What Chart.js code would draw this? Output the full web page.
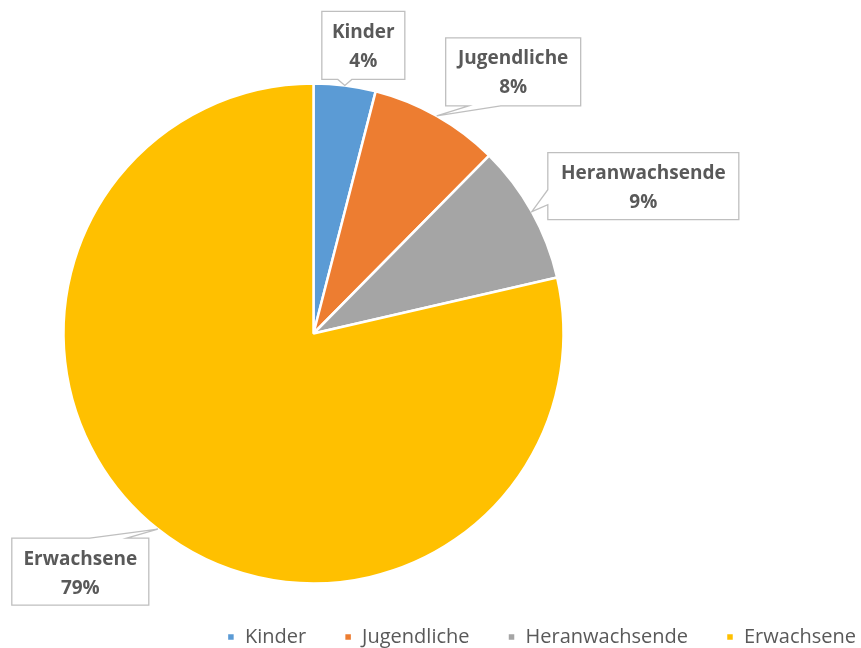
<!DOCTYPE html>
<html>
<head>
    <script src="https://cdn.jsdelivr.net/npm/chart.js@4.4.0/dist/chart.umd.min.js"></script>
    <style>
    body {
        margin: 0;
        background-color: #ffffff;
    }
    #wrap {
        width: 861px;
        height: 648px;
    }
    </style>
    <title>Altersgruppen</title>
</head>
<body>

<div id="wrap"><canvas id="myChart" width="861" height="648"></canvas></div>

<script>
    // data (slice angles), labels show rounded percent
    var categories = ['Kinder', 'Jugendliche', 'Heranwachsende', 'Erwachsene'];
    var shares = [4.0, 8.4, 9.0, 78.6];
    var sliceColors = ['#5B9BD5', '#ED7D31', '#A5A5A5', '#FFC000'];

    // callout boxes: offset of the box from the slice's edge point, box size, and where the wedge sits
    var callouts = [
        {dx: -23, dy: -74, w: 83, h: 68, edge: 'bottom', a: 16, b: 30},
        {dx: 9, dy: -78, w: 135, h: 68, edge: 'bottom', a: 23, b: 55},
        {dx: 16, dy: -59, w: 191, h: 67, edge: 'left', a: 37, b: 52},
        {dx: -146, dy: 9, w: 137, h: 67, edge: 'top', a: 78, b: 115}
    ];

    // put the pie where the original one sits (left of centre), legend keeps full width
    var pieArea = {
        id: 'pieArea',
        afterLayout: function(chart) {
            var a = chart.chartArea;
            a.left = 64; a.right = 563; a.top = 84; a.bottom = 583;
            a.width = 499; a.height = 499;
        }
    };

    var calloutLabels = {
        id: 'calloutLabels',
        afterDatasetsDraw: function(chart) {
            var ctx = chart.ctx;
            var meta = chart.getDatasetMeta(0);
            var total = shares.reduce(function(s, v) { return s + v; }, 0);
            meta.data.forEach(function(arc, i) {
                var p = arc.getProps(['x', 'y', 'startAngle', 'endAngle', 'outerRadius'], true);
                var mid = (p.startAngle + p.endAngle) / 2;
                var tx = p.x + Math.cos(mid) * p.outerRadius;
                var ty = p.y + Math.sin(mid) * p.outerRadius;
                var c = callouts[i];
                var L = tx + c.dx, T = ty + c.dy, R = L + c.w, B = T + c.h;

                ctx.save();
                ctx.beginPath();
                ctx.moveTo(L, T);
                if (c.edge === 'top') {
                    ctx.lineTo(L + c.a, T); ctx.lineTo(tx, ty); ctx.lineTo(L + c.b, T);
                }
                ctx.lineTo(R, T);
                ctx.lineTo(R, B);
                if (c.edge === 'bottom') {
                    ctx.lineTo(L + c.b, B); ctx.lineTo(tx, ty); ctx.lineTo(L + c.a, B);
                }
                ctx.lineTo(L, B);
                if (c.edge === 'left') {
                    ctx.lineTo(L, T + c.b); ctx.lineTo(tx, ty); ctx.lineTo(L, T + c.a);
                }
                ctx.closePath();
                ctx.fillStyle = '#ffffff';
                ctx.fill();
                ctx.strokeStyle = '#bfbfbf';
                ctx.lineWidth = 1.3;
                ctx.stroke();

                ctx.fillStyle = '#595959';
                ctx.font = 'bold 19px "Open Sans"';
                ctx.textAlign = 'center';
                ctx.textBaseline = 'middle';
                var cx = (L + R) / 2;
                ctx.fillText(categories[i], cx, T + 21);
                ctx.fillText(Math.round(shares[i] / total * 100) + '%', cx, T + 50);
                ctx.restore();
            });
        }
    };

    var ctx = document.getElementById('myChart').getContext('2d');
    var myChart = new Chart(ctx, {
        type: 'pie',
        data: {
            labels: categories,
            datasets: [{
                data: shares,
                backgroundColor: sliceColors,
                borderColor: '#ffffff',
                borderWidth: 2.5,
                radius: 250
            }]
        },
        options: {
            responsive: false,
            animation: false,
            layout: {
                padding: {top: 0, left: 0, right: -33, bottom: -9}
            },
            plugins: {
                legend: {
                    position: 'bottom',
                    align: 'end',
                    labels: {
                        boxWidth: 8,
                        boxHeight: 8,
                        padding: 38,
                        color: '#595959',
                        font: {family: '"Open Sans"', size: 20}
                    }
                },
                tooltip: {enabled: false}
            }
        },
        plugins: [pieArea, calloutLabels]
    });
</script>

</body>
</html>
